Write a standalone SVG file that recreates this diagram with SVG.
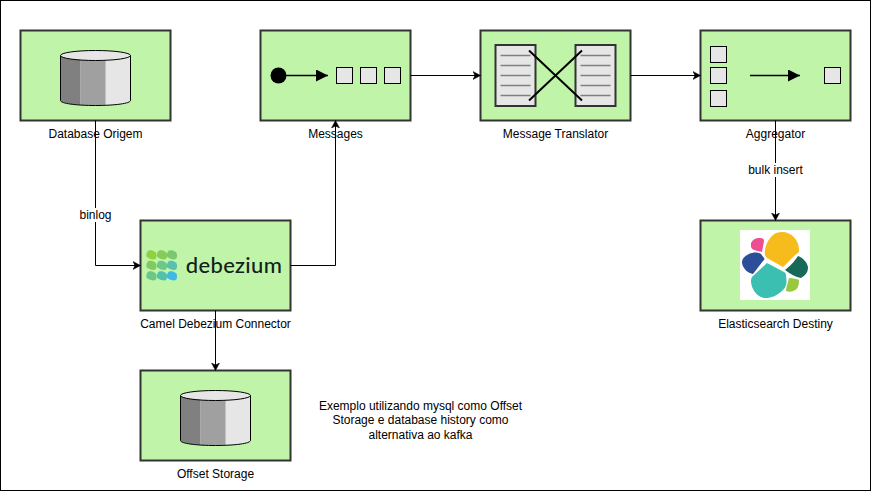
<svg xmlns="http://www.w3.org/2000/svg" width="871" height="491" viewBox="0 0 871 491">
<style>
text{font-family:"Liberation Sans",Arial,sans-serif;font-size:12px;fill:#000;text-anchor:middle}
.box{fill:#c0f5a9;stroke:#333;stroke-width:2}
.sq{fill:#e6e6e6;stroke:#000;stroke-width:1}
.doc{fill:#e6e6e6;stroke:#333;stroke-width:2}
.ln{stroke:#808080;stroke-width:1.5;fill:none}
.conn{fill:none;stroke:#000;stroke-width:1}
.thick{fill:none;stroke:#000;stroke-width:1.5}
.x{fill:none;stroke:#000;stroke-width:2}
</style>
<defs>
<marker id="a" markerUnits="userSpaceOnUse" markerWidth="9" markerHeight="10" refX="7.5" refY="4.5" orient="auto"><path d="M0,0.5L7.5,4.5L0,8.5L2,4.5Z" fill="#000" stroke="#000" stroke-width="0.5"/></marker>
<marker id="b" markerUnits="userSpaceOnUse" markerWidth="14" markerHeight="14" refX="12" refY="6" orient="auto"><path d="M0,0L12,6L0,12Z" fill="#000"/></marker>
<g id="cyl">
<path d="M0,5V50C0,53 16,55 35,55S70,53 70,50V5Z" fill="#e6e6e6"/>
<path d="M0,5H20V54.500C9,53.500 0,52 0,50Z" fill="#808080"/>
<path d="M20,5H45V54.800C36,55 27,55 20,54.500Z" fill="#a0a0a0"/>
<path d="M0,5V50C0,53 16,55 35,55S70,53 70,50V5" fill="none" stroke="#000"/>
<ellipse cx="35" cy="5" rx="35" ry="5" fill="#e6e6e6" stroke="#000"/>
</g>
<path id="cell" d="M1,1.500C3,-0.500 6,0.500 8,1.500S10,4 10,6 9,9.500 7,9.500 3,8.500 1,7.500 0,3 1,1.500Z"/>
</defs>
<rect id="frame" x="0.500" y="0.500" width="870" height="490" fill="#fff" stroke="#000"/>

<g id="database-origem">
<rect class="box" x="20.500" y="30.500" width="150" height="90"/>
<use href="#cyl" x="60.500" y="50.500"/>
<text x="95.500" y="138">Database Origem</text>
</g>

<g id="messages">
<rect class="box" x="260.500" y="30.500" width="150" height="90"/>
<circle cx="278.500" cy="75.500" r="8" fill="#000"/>
<path class="thick" d="M286,75.500H328" marker-end="url(#b)"/>
<rect class="sq" x="336.500" y="67.500" width="16" height="16"/>
<rect class="sq" x="360.500" y="67.500" width="16" height="16"/>
<rect class="sq" x="384.500" y="67.500" width="16" height="16"/>
<text x="335.500" y="138">Messages</text>
</g>

<g id="message-translator">
<rect class="box" x="480.500" y="30.500" width="150" height="90"/>
<rect class="doc" x="495.500" y="45" width="40" height="61"/>
<rect class="doc" x="575.500" y="45" width="40" height="61"/>
<path class="ln" d="M500.500,55.500H530.500M500.500,65.500H530.500M500.500,75.500H530.500M500.500,85.500H530.500M500.500,95.500H530.500M580.500,55.500H610.500M580.500,65.500H610.500M580.500,75.500H610.500M580.500,85.500H610.500M580.500,95.500H610.500"/>
<path class="x" d="M529,50.500L582,100.500M529,100.500L582,50.500"/>
<text x="555.500" y="138">Message Translator</text>
</g>

<g id="aggregator">
<rect class="box" x="700.500" y="30.500" width="150" height="90"/>
<rect class="sq" x="710.500" y="46.500" width="16" height="16"/>
<rect class="sq" x="710.500" y="67.500" width="16" height="16"/>
<rect class="sq" x="710.500" y="90.500" width="16" height="16"/>
<path class="thick" d="M750,75.500H800" marker-end="url(#b)"/>
<rect class="sq" x="824.500" y="67.500" width="16" height="16"/>
<text x="775.500" y="138">Aggregator</text>
</g>

<g id="camel-debezium-connector">
<rect class="box" x="140.500" y="220.500" width="150" height="90"/>
<use href="#cell" x="146.500" y="250" fill="#8fd13f"/>
<use href="#cell" x="157" y="250" fill="#86cc58"/>
<use href="#cell" x="167" y="250" fill="#7cc86e"/>
<use href="#cell" x="146.500" y="260.500" fill="#7fcb62"/>
<use href="#cell" x="157" y="260.500" fill="#6dc68b"/>
<use href="#cell" x="167" y="260.500" fill="#55c1ae"/>
<use href="#cell" x="146.500" y="271" fill="#6cc684"/>
<use href="#cell" x="157" y="271" fill="#52c0ad"/>
<use href="#cell" x="167" y="271" fill="#3db9e4"/>
<text x="234" y="272.500" style="font-family:Lato,Inter,'Liberation Sans',sans-serif;font-size:22px;font-weight:500;letter-spacing:0.3px;fill:#12211a">debezium</text>
<text x="215.500" y="328">Camel Debezium Connector</text>
</g>

<g id="elasticsearch-destiny">
<rect class="box" x="700.500" y="220.500" width="150" height="90"/>
<rect x="740" y="230" width="70" height="70" fill="#fff"/>
<path d="M767,243C771,235 776,232 782,232C792,232 800,241 799,252C793,256 789,262 783,267L767,258C764,256 764,250 767,243Z" fill="#f6bc1c"/>
<path d="M751,243C753,239 756,238 760,238C763,238 764,239 764,241L762,252C757,251 752,250 751,247Z" fill="#ef4d92"/>
<path d="M749,254C753,252 758,252 761,254L764,258C765,259 764,260 763,261L753,274C748,273 743,269 742,263C742,258 745,256 749,254Z" fill="#2d4f9a"/>
<path d="M767,263L784,272C786,273 786,274 786,276C787,282 787,287 782,291C776,296 771,298 766,298C758,298 752,291 751,282C751,279 751,278 753,276Z" fill="#3bbfb0"/>
<path d="M798,256C803,258 807,262 808,267C808,272 806,275 801,278C796,277 790,274 785,270C786,269 793,264 798,256Z" fill="#166a57"/>
<path d="M789,278C793,278 797,279 799,280C799,285 798,289 795,290C792,292 789,292 786,291C786,287 788,283 789,278Z" fill="#97c83d"/>
<text x="775.500" y="328">Elasticsearch Destiny</text>
</g>

<g id="offset-storage">
<rect class="box" x="140.500" y="370.500" width="150" height="90"/>
<use href="#cyl" x="180.500" y="390.500"/>
<text x="215.500" y="478">Offset Storage</text>
</g>

<g id="connectors">
<path class="conn" d="M95.500,120.500V265.500H140.500" marker-end="url(#a)"/>
<path class="conn" d="M290.500,265.500H335.500V120.500" marker-end="url(#a)"/>
<path class="conn" d="M410.500,75.500H480.500" marker-end="url(#a)"/>
<path class="conn" d="M630.500,75.500H700.500" marker-end="url(#a)"/>
<path class="conn" d="M775.500,120.500V220.500" marker-end="url(#a)"/>
<path class="conn" d="M215.500,310.500V370.500" marker-end="url(#a)"/>
<rect x="78" y="208" width="35" height="14" fill="#fff"/>
<text x="95.500" y="219">binlog</text>
<rect x="747" y="163" width="57" height="14" fill="#fff"/>
<text x="775.500" y="174">bulk insert</text>
</g>

<g id="note">
<text x="420.500" y="410">Exemplo utilizando mysql como Offset</text>
<text x="420.500" y="424">Storage e database history como</text>
<text x="420.500" y="439">alternativa ao kafka</text>
</g>
</svg>
